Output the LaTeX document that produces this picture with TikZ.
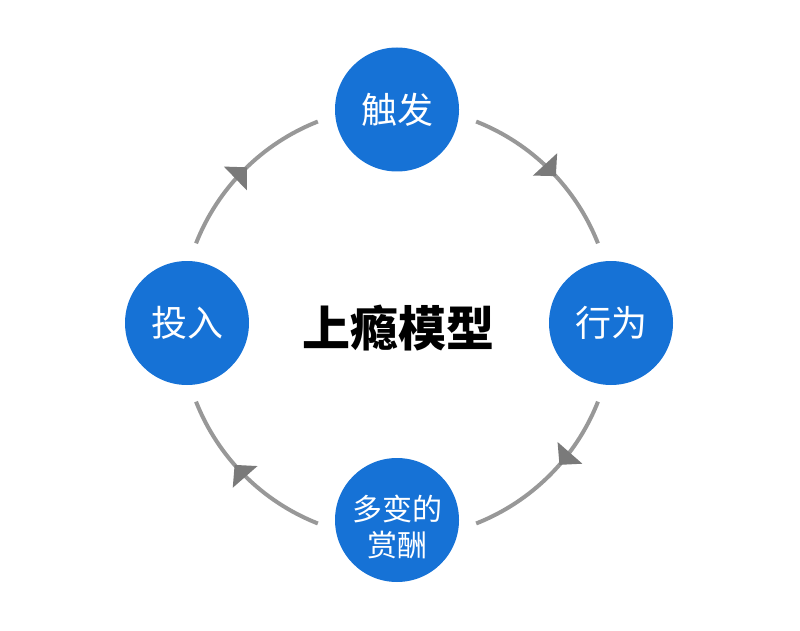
\documentclass[tikz,border=0pt]{standalone}
\usepackage{fontspec}
\setmainfont{Noto Sans CJK SC}
\usetikzlibrary{arrows.meta,decorations.markings}
\definecolor{stageblue}{RGB}{22,114,214}
\definecolor{loopgray}{RGB}{152,152,152}
\begin{document}
\begin{tikzpicture}[x=1pt,y=1pt,
	stage/.style={circle,fill=stageblue,minimum size=124pt,inner sep=0pt,text=white,align=center,font=\fontsize{36}{40}\selectfont},
	flow/.style={draw=loopgray,line width=4pt,postaction={decorate},
		decoration={markings,mark=at position #1 with {\arrow[loopgray!80!black]{Triangle[length=16pt,width=32pt]}}}}]
	\def\R{216}
	\useasboundingbox (0,0) rectangle (800,-631);
	\coordinate (hub) at (397,-322.5);
	\foreach \n/\x/\y/\t in {top/397/-109.5/触发,right/611/-323/行为,left/187/-323/投入}
	\node[stage] (\n) at (\x,\y) {\t};
	\node[stage,font=\fontsize{30}{36}\selectfont,text height=75pt,text depth=2pt] (bottom) at (397,-520) {多变的\\赏酬};
	\node[font=\bfseries\fontsize{48}{52}\selectfont] (title) at (398,-328) {上瘾模型};
	% cycle, clockwise
	\foreach \a/\b/\p in {68.5/21.5/0.55,-21.5/-68.5/0.42,-111.5/-158.5/0.58,158.5/111.5/0.52}
	\draw[flow=\p] (hub) ++(\a:\R) arc[start angle=\a,end angle=\b,radius=\R];
\end{tikzpicture}
\end{document}
